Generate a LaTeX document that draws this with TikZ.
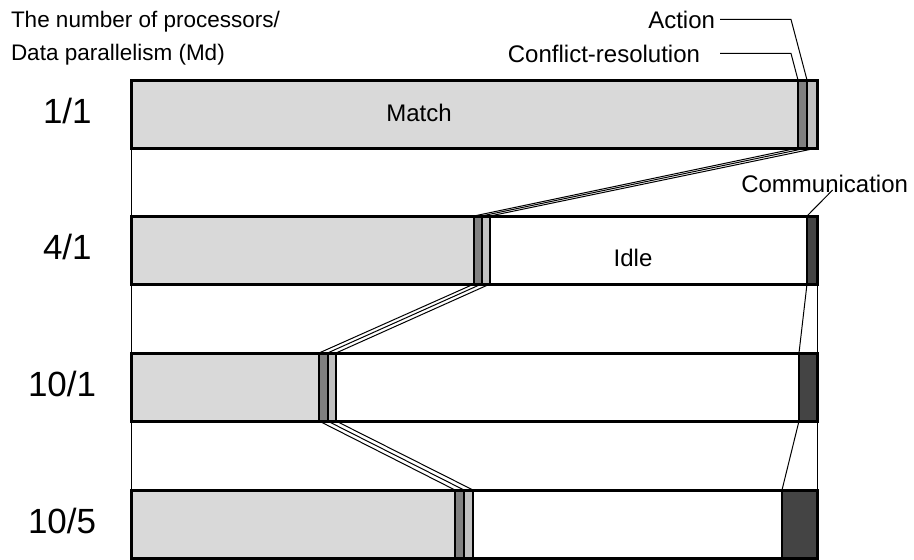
\documentclass[tikz,border=0pt]{standalone}
\usepackage{fontspec}
\setmainfont{Liberation Sans}
\definecolor{matchgray}{RGB}{217,217,217}
\definecolor{crgray}{RGB}{128,128,128}
\definecolor{actgray}{RGB}{192,192,192}
\definecolor{commgray}{RGB}{68,68,68}
\begin{document}
\begin{tikzpicture}[x=1pt,y=-1pt,
  seg/.style={draw=black, line width=2pt, inner sep=0pt, outer sep=0pt,
              anchor=north west, minimum height=68pt},
  matchseg/.style={seg, fill=matchgray},
  crseg/.style={seg, fill=crgray},
  actseg/.style={seg, fill=actgray},
  idleseg/.style={seg, fill=white},
  commseg/.style={seg, fill=commgray},
  barframe/.style={draw=black, line width=3pt, inner sep=0pt, outer sep=0pt,
                   anchor=north west, minimum height=68pt, minimum width=686pt},
  link/.style={draw=black, line width=1pt},
  leader/.style={draw=black, line width=1pt},
  lbl/.style={inner sep=0pt, outer sep=0pt, font=\fontsize{24}{34}\selectfont},
  titlelbl/.style={inner sep=0pt, outer sep=0pt, font=\fontsize{22.5}{33.5}\selectfont},
  rowlbl/.style={inner sep=0pt, outer sep=0pt, anchor=base west,
                 font=\fontsize{35}{42}\selectfont}
]
\useasboundingbox (0,0) rectangle (914,560);

% ---- bar 1/1
\node[matchseg, minimum width=667pt] (m1) at (131,80) {};
\node[crseg,    minimum width=9pt]   (c1) at (798,80) {};
\node[actseg,   minimum width=10pt]  (a1) at (807,80) {};
\node[barframe] (b1) at (131,80) {};

% ---- bar 4/1
\node[matchseg, minimum width=343pt] (m2) at (131,216) {};
\node[crseg,    minimum width=7.5pt] (c2) at (474,216) {};
\node[actseg,   minimum width=8.5pt] (a2) at (481.5,216) {};
\node[idleseg,  minimum width=317pt] (i2) at (490,216) {};
\node[commseg,  minimum width=10pt]  (k2) at (807,216) {};
\node[barframe] (b2) at (131,216) {};

% ---- bar 10/1
\node[matchseg, minimum width=188pt] (m3) at (131,353) {};
\node[crseg,    minimum width=8.5pt] (c3) at (319,353) {};
\node[actseg,   minimum width=8.5pt] (a3) at (327.5,353) {};
\node[idleseg,  minimum width=463pt] (i3) at (336,353) {};
\node[commseg,  minimum width=18pt]  (k3) at (799,353) {};
\node[barframe] (b3) at (131,353) {};

% ---- bar 10/5
\node[matchseg, minimum width=324pt] (m4) at (131,490) {};
\node[crseg,    minimum width=9pt]   (c4) at (455,490) {};
\node[actseg,   minimum width=9pt]   (a4) at (464,490) {};
\node[idleseg,  minimum width=309pt] (i4) at (473,490) {};
\node[commseg,  minimum width=35pt]  (k4) at (782,490) {};
\node[barframe] (b4) at (131,490) {};

% ---- links between consecutive bars
\draw[link] (m1.south west) -- (m2.north west);
\draw[link] (c1.south west) -- (c2.north west);
\draw[link] (a1.south west) -- (a2.north west);
\draw[link] (a1.south east) -- (a2.north east);

\draw[link] (m2.south west) -- (m3.north west);
\draw[link] (c2.south west) -- (c3.north west);
\draw[link] (a2.south west) -- (a3.north west);
\draw[link] (a2.south east) -- (a3.north east);
\draw[link] (k2.south west) -- (k3.north west);
\draw[link] (k2.south east) -- (k3.north east);

\draw[link] (m3.south west) -- (m4.north west);
\draw[link] (c3.south west) -- (c4.north west);
\draw[link] (a3.south west) -- (a4.north west);
\draw[link] (a3.south east) -- (a4.north east);
\draw[link] (k3.south west) -- (k4.north west);
\draw[link] (k3.south east) -- (k4.north east);

% ---- labels
\node[titlelbl, anchor=north west, align=left] (title) at (11,11)
  {The number of processors/\\Data parallelism (Md)};
\node[lbl, anchor=base east] (tact) at (715,28) {Action};
\node[lbl, anchor=base east] (tcr)  at (700,62) {Conflict-resolution};
\node[lbl, anchor=base east] (tcomm) at (908,192) {Communication};
\node[lbl] (tmatch) at (419,113) {Match};
\node[lbl] (tidle)  at (633,258) {Idle};

\draw[leader] ([xshift=5pt]tact.east) -- ++(71,0) -- (a1.north west);
\draw[leader] ([xshift=20pt]tcr.east) -- ++(71,0) -- (c1.north west);
\draw[leader] ([xshift=8pt,yshift=2pt]tcomm.base) -- (k2.north west);

\node[rowlbl] (r1) at (43,123) {1/1};
\node[rowlbl] (r2) at (43,259) {4/1};
\node[rowlbl] (r3) at (28,396) {10/1};
\node[rowlbl] (r4) at (28,533) {10/5};
\end{tikzpicture}
\end{document}
